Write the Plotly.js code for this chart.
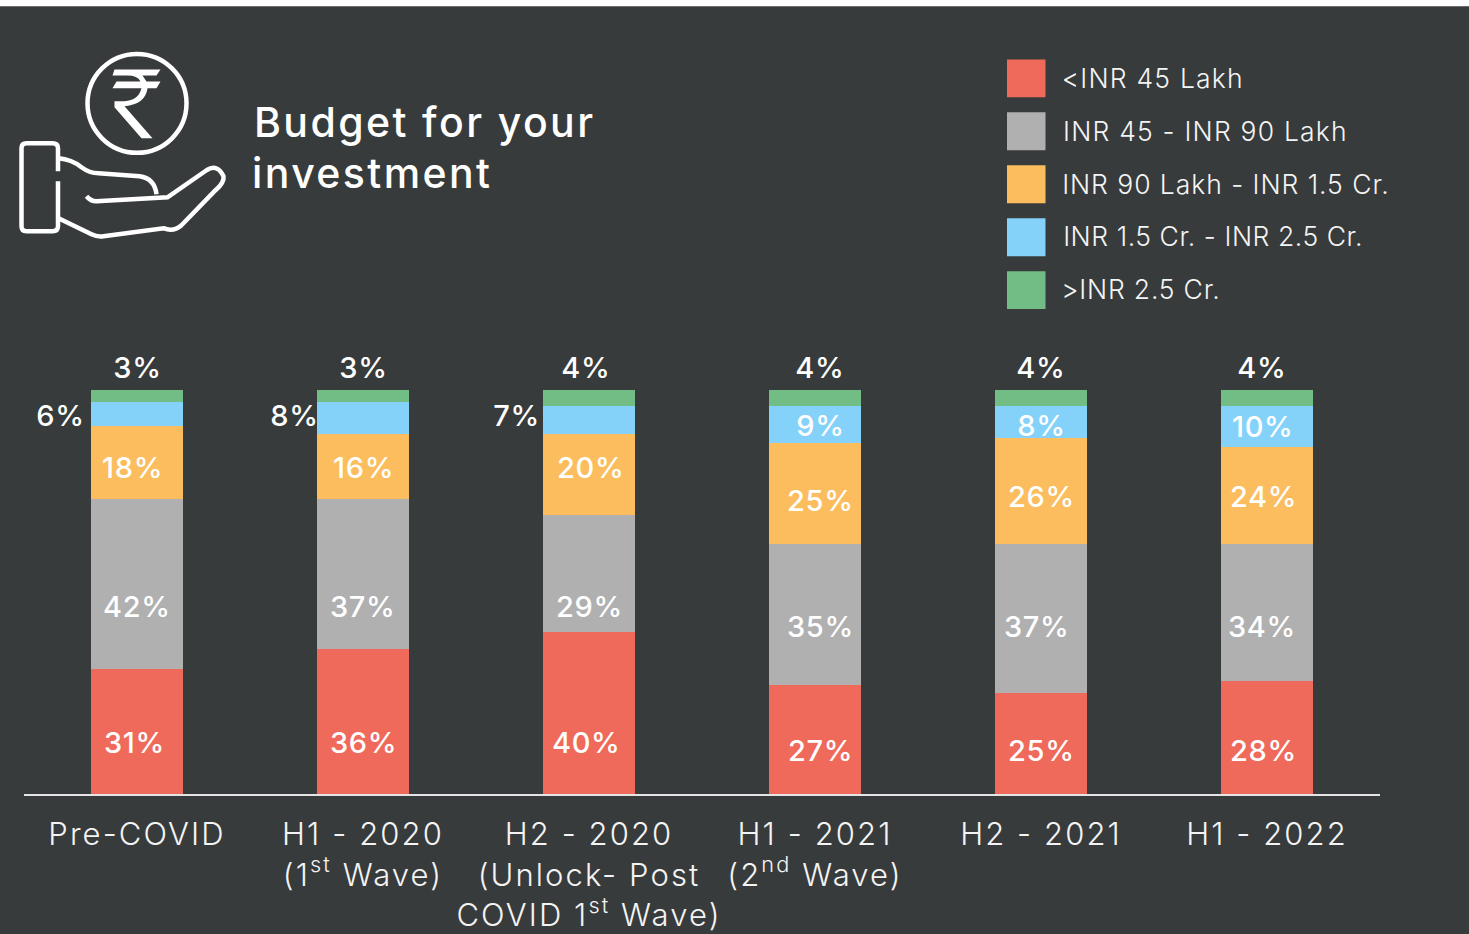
<!DOCTYPE html>
<html>
<head>
<meta charset="utf-8">
<script src="https://cdn.plot.ly/plotly-3.0.1.min.js"></script>
<style>
html,body{margin:0;padding:0;background:#383b3c;overflow:hidden}
#chart{width:1469px;height:934px}
#chart .xtick text{letter-spacing:2.1px}
#chart .annotation-text[style*="font-size: 41px"]{letter-spacing:2.4px}
#chart .annotation-text[style*="font-size: 26.5px"]{letter-spacing:1.2px}
#chart .annotation-text[style*="font-size: 29px"]{letter-spacing:0.7px}
</style>
</head>
<body>
<div id="chart"></div>
<script>
var categories = ["Pre-COVID", "H1 - 2020<br>(1<sup>st</sup> Wave)", "H2 - 2020<br>(Unlock- Post<br>COVID 1<sup>st</sup> Wave)", "H1 - 2021<br>(2<sup>nd</sup> Wave)", "H2 - 2021", "H1 - 2022"];
var seriesNames = ["<INR 45 Lakh", "INR 45 - INR 90 Lakh", "INR 90 Lakh - INR 1.5 Cr.", "INR 1.5 Cr. - INR 2.5 Cr.", ">INR 2.5 Cr."];
var below45 = [31, 36, 40, 27, 25, 28];
var from45to90 = [42, 37, 29, 35, 37, 34];
var from90to150 = [18, 16, 20, 25, 26, 24];
var from150to250 = [6, 8, 7, 9, 8, 10];
var above250 = [3, 3, 4, 4, 4, 4];
var seriesColors = ["#ef6a5a", "#b0b0b0", "#fbbd5e", "#84d2f9", "#72bd86"];

var allSeries = [below45, from45to90, from90to150, from150to250, above250];
var W = 1469, H = 934, L = 24, R = 1380, T = 390, B = 794.5;
var FONT = "Inter, 'Open Sans', sans-serif";
var TEXT = "#f4f4f4";

// where each value label sits on the page
var labelX = [[134,363,586,820,1041,1263],[137,363,589,820,1037,1262],[132,363,590,820,1041,1263],[60,294,516,820,1041,1263],[137,363,586,820,1041,1262]];
var labelY = [[743,743,743,751,751,751],[607,607,607,627,627,627],[468,468,468,501,497,497],[416,416,416,426,426,427],[368,368,368,368,368,368]];

function px(x){return (x-L)/(R-L);}
function py(y){return (B-y)/(B-T);}

var traces = allSeries.map(function(vals,i){
  return {type:"bar",name:seriesNames[i],x:categories,y:vals,width:0.403,
    marker:{color:seriesColors[i],line:{width:0}},hoverinfo:"skip",cliponaxis:false};
});

var annotations = [];
var step = (R-L)/categories.length;
allSeries.forEach(function(vals,s){
  vals.forEach(function(v,c){
    var base = 0;
    for(var k=0;k<s;k++) base += allSeries[k][c];
    var mid = base + v/2;
    var cx = L + step*(c+0.5);
    var cy = B - mid/100*(B-T);
    annotations.push({x:categories[c],y:mid,xref:"x",yref:"y",text:v+"%",showarrow:false,
      xanchor:"center",yanchor:"middle",xshift:labelX[s][c]-cx,yshift:cy-labelY[s][c]+0.5,
      font:{family:FONT,size:29,color:"#ffffff",weight:500}});
  });
});

// title: text centres on the page
[["Budget for your",424.5,122],["investment",372,173]].forEach(function(t){
  annotations.push({xref:"paper",yref:"paper",x:px(t[1]),y:py(t[2]),xanchor:"center",yanchor:"middle",showarrow:false,
    text:t[0],font:{family:FONT,size:41,color:"#ffffff",weight:500}});
});

// legend
var shapes = [];
var legendTop = [59,112,165,218,271];
var legendTextCentre = [1153,1205,1226,1212.5,1141];
var legendTextY = [77.5,130.5,183.5,236,289];
seriesNames.forEach(function(n,i){
  shapes.push({type:"rect",xref:"paper",yref:"paper",x0:px(1007),x1:px(1045.5),y0:py(legendTop[i]),y1:py(legendTop[i]+38),
    fillcolor:seriesColors[i],line:{width:0}});
  annotations.push({xref:"paper",yref:"paper",x:px(legendTextCentre[i]),y:py(legendTextY[i]),xanchor:"center",yanchor:"middle",showarrow:false,
    text:n.replace("<","&lt;").replace(">","&gt;"),font:{family:FONT,size:26.5,color:TEXT,weight:300}});
});

// white strip along the top of the page
shapes.push({type:"rect",xref:"paper",yref:"paper",x0:px(0),x1:px(W),y0:py(-5),y1:py(5.7),fillcolor:"#ffffff",line:{width:0}});

// icon, drawn in page pixels
function P(x,y){return px(x-0.5).toFixed(5)+","+py(y).toFixed(5);}
function ic(cmds){
  return cmds.map(function(c){
    var s=c[0];
    for(var i=1;i<c.length;i+=2){s+=(i>1?" ":"")+P(c[i],c[i+1]);}
    return s;
  }).join(" ");
}
var iconLine={color:"#ffffff",width:4.5};
shapes.push({type:"circle",xref:"paper",yref:"paper",x0:px(87.5),x1:px(186.5),y0:py(53.5),y1:py(152.5),line:{color:"#ffffff",width:4.5},fillcolor:"rgba(0,0,0,0)"});
shapes.push({type:"path",xref:"paper",yref:"paper",fillcolor:"#ffffff",line:{width:0},path:ic([
  ["M",115,69],["L",161,69],["L",157,75],["L",143,75],["L",147,81],["L",161,81],["L",157,88],["L",148,88],
  ["Q",146,104,125,106],["L",153,138],["L",142,138],["L",115,107],["L",115,101],["L",125,101],
  ["Q",139,100,142,88],["L",113,88],["L",117,81],["L",141,81],["Q",138,75,128,75],["L",113,75],["Z"]])});
[
  [["M",58.5,171],["L",58.5,148],["Q",58.5,143,53,143],["L",27,143],["Q",22,143,22,148],["L",22,226],["Q",22,231,27,231],["L",53,231],["Q",58.5,231,58.5,226],["L",58.5,181]],
  [["M",59,158],["Q",72,159,82,167],["Q",90,173,99,173],["L",140,176],["Q",155,178,157,194]],
  [["M",87,196],["Q",91,201,97,201],["L",168,197],["L",207,170],["Q",218,163,224,176],["Q",225,182,216,190],["L",182,225],["Q",174,232,164,228],["L",104,236],["Q",98,237,92,234],["L",59,218]]
].forEach(function(c){
  shapes.push({type:"path",xref:"paper",yref:"paper",fillcolor:"rgba(0,0,0,0)",line:iconLine,path:ic(c)});
});

var layout = {
  width:W,height:H,barmode:"stack",showlegend:false,hovermode:false,
  paper_bgcolor:"#383b3c",plot_bgcolor:"#383b3c",
  margin:{l:L,r:W-R,t:T,b:H-B,pad:0},
  font:{family:FONT,color:TEXT},
  xaxis:{type:"category",range:[-0.5,5.5],showgrid:false,zeroline:false,showline:true,linecolor:"#e4e4e4",linewidth:2,
    ticks:"",ticklen:0,tickangle:0,ticklabelstandoff:12,automargin:false,fixedrange:true,tickfont:{family:FONT,size:31,color:TEXT,weight:300}},
  yaxis:{range:[0,100],visible:false,fixedrange:true},
  annotations:annotations,shapes:shapes
};
Plotly.newPlot("chart",traces,layout,{displayModeBar:false,staticPlot:true}).then(function(){
  // the narrower legend rows need tighter tracking
  var tracking = {"INR 90 Lakh - INR 1.5 Cr.":"0.95px","INR 1.5 Cr. - INR 2.5 Cr.":"0.55px",">INR 2.5 Cr.":"0.8px"};
  document.querySelectorAll("#chart .annotation-text").forEach(function(t){
    if(tracking[t.textContent]) t.style.letterSpacing = tracking[t.textContent];
  });
});
</script>
</body>
</html>
